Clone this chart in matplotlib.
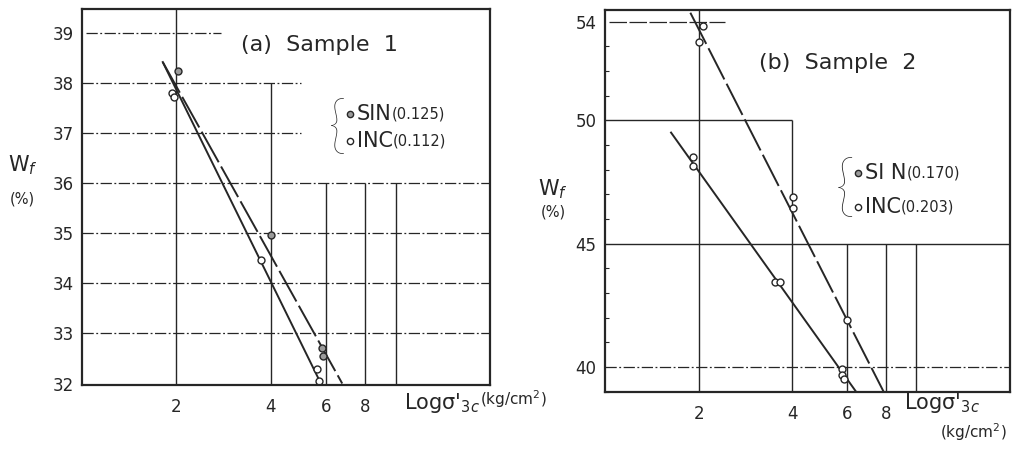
import matplotlib.pyplot as plt
from matplotlib.ticker import FixedLocator, NullLocator

plt.rcParams["font.family"] = ["DejaVu Sans"]
plt.rcParams["mathtext.fontset"] = "dejavusans"

INK = "#262626"

# (a) Sample 1 -- measured points and fitted lines
a_sin_x = [2.03, 4.00, 5.83, 5.87]
a_sin_y = [38.25, 34.96, 32.70, 32.55]
a_inc_x = [1.93, 1.97, 3.71, 5.60, 5.70]
a_inc_y = [37.80, 37.72, 34.46, 32.28, 32.05]
a_fit_sin_x = [1.81, 6.76]
a_fit_sin_y = [38.42, 32.00]
a_fit_inc_x = [1.81, 5.78]
a_fit_inc_y = [38.42, 32.00]
a_yticks = [32, 33, 34, 35, 36, 37, 38, 39]

# (b) Sample 2
b_sin_x = [2.07, 2.00, 4.01, 4.03, 5.99]
b_sin_y = [53.82, 53.17, 46.87, 46.46, 41.92]
b_inc_x = [1.92, 1.92, 3.51, 3.64, 5.78, 5.78, 5.85]
b_inc_y = [48.49, 48.15, 43.45, 43.45, 39.93, 39.66, 39.50]
b_fit_sin_x = [1.88, 7.85]
b_fit_sin_y = [54.36, 39.00]
b_fit_inc_x = [1.63, 6.40]
b_fit_inc_y = [49.50, 39.00]
b_yticks = [40, 45, 50, 54]
b_minor = list(range(39, 55))

xticks = [2, 4, 6, 8]
a_labels = [("SIN", "(0.125)"), ("INC", "(0.112)")]
b_labels = [("SI N", "(0.170)"), ("INC", "(0.203)")]
xname = "Logσ$'_{3c}$"

fig = plt.figure(figsize=(10.27, 4.51), dpi=100)
ax_a = fig.add_axes([0.0798, 0.1463, 0.3973, 0.8337])
ax_b = fig.add_axes([0.5891, 0.1308, 0.3943, 0.8470])

dashdot = (0, (9, 2, 1.5, 2))


def frame(ax, ylim, yticks):
    ax.set_xscale("log")
    ax.set_xlim(1, 20)
    ax.set_ylim(*ylim)
    ax.xaxis.set_major_locator(FixedLocator(xticks))
    ax.xaxis.set_minor_locator(NullLocator())
    ax.set_xticklabels([str(t) for t in xticks])
    ax.set_yticks(yticks)
    ax.tick_params(axis="x", length=0, pad=9, labelsize=12, colors=INK)
    ax.tick_params(axis="y", length=0, pad=6, labelsize=12, colors=INK)
    for sp in ax.spines.values():
        sp.set_linewidth(1.6)
        sp.set_color(INK)


def legend(ax, labels, bx, by, dx, tx, rows, bsize):
    ax.text(bx, by, "{", transform=ax.transAxes, fontsize=bsize,
            ha="center", va="center", color=INK,
            family=["Lato", "DejaVu Sans"], fontweight="light")
    faces = ["#9a9a9a", "white"]
    for (name, val), ry, fc in zip(labels, rows, faces):
        ax.plot([dx], [ry], "o", transform=ax.transAxes, ms=4.5,
                mfc=fc, mec=INK, mew=1.0, clip_on=False)
        t = ax.text(tx, ry, name, transform=ax.transAxes, fontsize=15,
                    va="center", color=INK)
        ax.annotate(val, xy=(1, 0.12), xycoords=t, fontsize=10.5,
                    va="bottom", color=INK)


def ylabel(ax, x, y1, y2):
    ax.text(x, y1, r"W$_f$", transform=ax.transAxes, fontsize=15,
            ha="center", va="center", color=INK)
    ax.text(x, y2, "(%)", transform=ax.transAxes, fontsize=10.5,
            ha="center", va="center", color=INK)


# ---- panel (a)
ax = ax_a
frame(ax, (31.97, 39.48), a_yticks)
ax.hlines(39, 1.03, 2.77, color=INK, lw=0.9, ls=dashdot)
ax.hlines([37, 38], 1, 5.0, color=INK, lw=0.9, ls=dashdot)
ax.hlines([33, 34, 35, 36], 1, 20, color=INK, lw=0.9, ls=dashdot)
ax.vlines(2, 31.97, 39.48, color=INK, lw=1.0)
ax.vlines(4, 31.97, 38, color=INK, lw=1.0)
ax.vlines([6, 8, 10], 31.97, 36, color=INK, lw=1.0)

ax.plot(a_fit_inc_x, a_fit_inc_y, color=INK, lw=1.4)
ax.plot(a_fit_sin_x, a_fit_sin_y, color=INK, lw=1.4, ls=(0, (18, 2.5)))
ax.plot(a_sin_x, a_sin_y, "o", ms=5, mfc="#9a9a9a", mec=INK, mew=1.0,
        clip_on=False)
ax.plot(a_inc_x, a_inc_y, "o", ms=5, mfc="white", mec=INK, mew=1.0,
        clip_on=False)

ax.text(0.583, 0.904, "(a)  Sample  1", transform=ax.transAxes,
        fontsize=16, ha="center", va="center", color=INK,
        bbox=dict(facecolor="white", edgecolor="none", pad=1))
legend(ax, a_labels, 0.625, 0.68, 0.657, 0.674, [0.721, 0.649], 46)
ylabel(ax, -0.145, 0.585, 0.495)

xl = ax.text(0.79, -0.048, xname, transform=ax.transAxes,
             fontsize=15, va="center", color=INK)
ax.annotate("(kg/cm$^2$)", xy=(1, 0.2), xycoords=xl, fontsize=11,
            va="bottom", color=INK, annotation_clip=False)

# ---- panel (b)
ax = ax_b
frame(ax, (38.98, 54.47), b_yticks)
ax.yaxis.set_minor_locator(FixedLocator(b_minor))
ax.tick_params(axis="y", which="minor", direction="in", length=3,
               width=0.8, colors=INK)
ax.hlines(54, 1.03, 2.43, color=INK, lw=0.9, ls=(0, (14, 2)))
ax.hlines(50, 1, 4, color=INK, lw=1.0)
ax.hlines(45, 1, 20, color=INK, lw=1.0)
ax.hlines(40, 1, 20, color=INK, lw=0.9, ls=dashdot)
ax.vlines(2, 38.98, 54.47, color=INK, lw=1.0)
ax.vlines(4, 38.98, 50, color=INK, lw=1.0)
ax.vlines([6, 8, 10], 38.98, 45, color=INK, lw=1.0)

ax.plot(b_fit_inc_x, b_fit_inc_y, color=INK, lw=1.4)
ax.plot(b_fit_sin_x, b_fit_sin_y, color=INK, lw=1.4, ls=(0, (18, 2.5)))
ax.plot(b_sin_x, b_sin_y, "o", ms=5, mfc="white", mec=INK, mew=1.0,
        clip_on=False)
ax.plot(b_inc_x, b_inc_y, "o", ms=5, mfc="white", mec=INK, mew=1.0,
        clip_on=False)

ax.text(0.574, 0.861, "(b)  Sample  2", transform=ax.transAxes,
        fontsize=16, ha="center", va="center", color=INK)
legend(ax, b_labels, 0.591, 0.528, 0.625, 0.642, [0.573, 0.484], 50)
ylabel(ax, -0.128, 0.53, 0.47)

ax.text(0.738, -0.029, xname, transform=ax.transAxes,
        fontsize=15, va="center", color=INK)
ax.text(0.827, -0.105, "(kg/cm$^2$)", transform=ax.transAxes,
        fontsize=11, va="center", color=INK)

fig.savefig("out.png", dpi=100, facecolor="white")
